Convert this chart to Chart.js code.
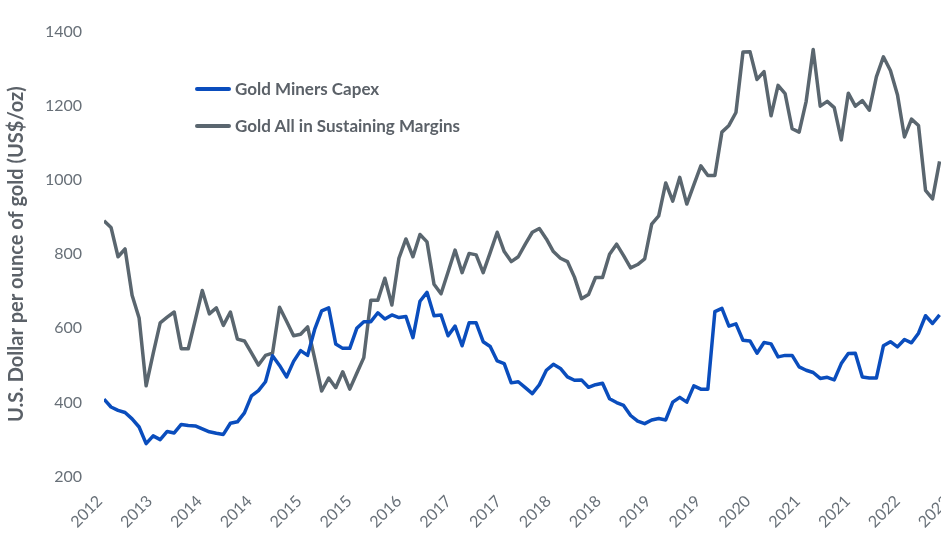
<!DOCTYPE html>
<html>
<head>
<meta charset="utf-8">
<script src="https://cdn.jsdelivr.net/npm/chart.js@4.4.1/dist/chart.umd.min.js"></script>
<style>
  html, body { margin: 0; padding: 0; background: #fff; overflow: hidden; }
  #wrap { position: relative; width: 964px; height: 540px; }
  #legend { position: absolute; left: 195px; top: 70px; font-family: Lato, sans-serif; font-weight: bold; font-size: 17px; color: #5b6168; }
  .item { display: flex; align-items: center; height: 37px; }
  .swatch { width: 36px; height: 4px; margin-right: 4px; border-radius: 2px; }
</style>
</head>
<body>
<div id="wrap">
  <canvas id="chart" width="964" height="540"></canvas>
  <div id="legend"></div>
</div>
<script>
const tickLabels = ['2012', '2013', '2014', '2014', '2015', '2015', '2016', '2017', '2017',
                    '2018', '2018', '2019', '2019', '2020', '2021', '2021', '2022', '2022'];
const yTicks = [200, 400, 600, 800, 1000, 1200, 1400];

// monthly readings, US$/oz
const minersCapex = [
    409, 388, 379, 373, 356, 334, 289, 310, 300, 322,
    318, 341, 338, 337, 329, 321, 317, 314, 344, 348,
    372, 418, 432, 456, 526, 500, 469, 511, 540, 527,
    597, 647, 655, 558, 546, 546, 600, 618, 618, 642,
    625, 636, 629, 632, 575, 673, 697, 634, 636, 580,
    606, 553, 615, 615, 564, 551, 512, 505, 453, 456,
    440, 424, 448, 487, 503, 492, 469, 460, 461, 441,
    448, 452, 410, 400, 392, 365, 350, 343, 353, 357,
    353, 401, 414, 401, 445, 436, 436, 645, 654, 606,
    612, 568, 566, 533, 562, 558, 523, 527, 527, 496,
    487, 481, 465, 468, 461, 505, 532, 533, 469, 466,
    466, 553, 564, 550, 570, 561, 587, 634, 613, 636
];
const aiscMargins = [
    890, 872, 793, 814, 689, 628, 445, 532, 615, 630,
    644, 545, 545, 623, 702, 639, 655, 608, 644, 571,
    566, 534, 501, 527, 533, 657, 619, 580, 584, 604,
    519, 431, 466, 440, 483, 436, 479, 521, 676, 676,
    735, 663, 789, 841, 793, 853, 833, 719, 693, 752,
    811, 750, 802, 798, 750, 804, 859, 807, 780, 793,
    827, 859, 869, 841, 807, 789, 780, 738, 680, 691,
    737, 737, 800, 827, 796, 763, 772, 787, 881, 903,
    992, 943, 1007, 935, 987, 1038, 1012, 1012, 1129, 1147,
    1182, 1345, 1346, 1271, 1292, 1173, 1255, 1233, 1138, 1129,
    1212, 1352, 1199, 1212, 1195, 1108, 1234, 1199, 1214, 1188,
    1278, 1332, 1295, 1230, 1116, 1164, 1147, 972, 949, 1050
];

const tickStart = -0.6;
const tickEvery = 7.1;
const labelFont = { family: 'Lato', size: 16 };

const datasets = [
    { label: 'Gold Miners Capex', values: minersCapex, color: '#0a4dbd' },
    { label: 'Gold All in Sustaining Margins', values: aiscMargins, color: '#5a666f' }
];

new Chart(document.getElementById('chart'), {
    type: 'line',
    data: {
        datasets: datasets.map(d => ({
            label: d.label,
            data: d.values.map((v, i) => ({ x: i, y: v })),
            borderColor: d.color,
            backgroundColor: d.color,
            borderWidth: 3.5,
            pointRadius: 0,
            tension: 0,
            borderJoinStyle: 'round'
        }))
    },
    options: {
        responsive: false,
        animation: false,
        layout: { padding: { top: 18.3, right: 16, left: 0, bottom: 0 } },
        plugins: { legend: { display: false }, tooltip: { enabled: false } },
        scales: {
            x: {
                type: 'linear',
                min: 0,
                max: 120.2,
                afterBuildTicks: s => { s.ticks = tickLabels.map((_, j) => ({ value: tickStart + j * tickEvery })); },
                afterFit: s => { s.height = 63.3; s.paddingLeft = 0; s.paddingRight = 0; },
                grid: { display: false, drawTicks: false },
                border: { display: false },
                ticks: {
                    autoSkip: false,
                    minRotation: 45,
                    maxRotation: 45,
                    padding: 15,
                    color: '#687078',
                    font: labelFont,
                    callback: (v, i) => tickLabels[i]
                }
            },
            y: {
                min: 200,
                max: 1400,
                afterBuildTicks: s => { s.ticks = yTicks.map(v => ({ value: v })); },
                afterFit: s => { s.width = 104; },
                grid: { display: false, drawTicks: false },
                border: { display: false },
                ticks: { padding: 22, color: '#687078', font: labelFont, callback: v => String(v) },
                title: {
                    display: true,
                    text: 'U.S. Dollar per ounce of gold (US$/oz)',
                    color: '#5b6168',
                    font: { family: 'Lato', size: 20, weight: 'bold' },
                    padding: { top: 5, bottom: 0 }
                }
            }
        }
    }
});

const legend = document.getElementById('legend');
legend.innerHTML = datasets.map(d => `
    <div class="item"><span class="swatch" style="background:${d.color}"></span>${d.label}</div>
`).join('');
</script>
</body>
</html>
